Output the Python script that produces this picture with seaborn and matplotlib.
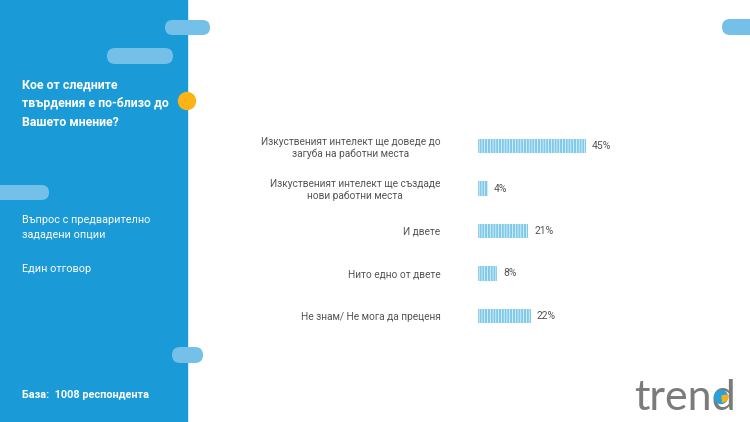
import matplotlib
matplotlib.use("Agg")
import matplotlib.pyplot as plt
from matplotlib.patches import FancyBboxPatch, Circle, Rectangle, Wedge
import seaborn as sns
import pandas as pd

# -------------------------------
# Data
# -------------------------------
answers = [
    "Изкуственият интелект ще доведе до\nзагуба на работни места",
    "Изкуственият интелект ще създаде\nнови работни места",
    "И двете",
    "Нито едно от двете",
    "Не знам/ Не мога да преценя",
]
shares = [45, 4, 21, 8, 22]

title = "Кое от следните\nтвърдения е по-близо до\nВашето мнение?"
note_1 = "Въпрос с предварително\nзададени опции"
note_2 = "Един отговор"
base = "База:  1008 респондента"

df = pd.DataFrame({"answer": answers, "share": shares})

# -------------------------------
# Style
# -------------------------------
sns.set_theme(style="white")
plt.rcParams["font.family"] = ["Roboto", "DejaVu Sans"]
plt.rcParams["hatch.color"] = "white"
plt.rcParams["hatch.linewidth"] = 0.45

PANEL = "#1b9ad8"
PILL = "#74c0e8"
BAR = "#7fcaea"
TEXT = "#555555"

W, H = 750, 422
fig = plt.figure(figsize=(7.5, 4.22), dpi=100)
fig.patch.set_facecolor("white")

# background layer in pixel coords
bg = fig.add_axes([0, 0, 1, 1])
bg.set_xlim(0, W)
bg.set_ylim(H, 0)
bg.axis("off")

bg.add_patch(Rectangle((0, 0), 187, H, color=PANEL, zorder=1))


def pill(x, y, w, h, color=PILL):
    bg.add_patch(FancyBboxPatch((x, y), w, h,
                                boxstyle=f"round,pad=0,rounding_size={h / 2}",
                                color=color, zorder=2, lw=0))


pill(165, 20, 45, 15)
pill(107, 48, 66, 16)
pill(-20, 185, 69, 15)
pill(172, 347, 31, 16)
pill(722, 19, 50, 16)
bg.add_patch(Circle((187, 101), 8.5, color="#fbb316", zorder=3))

bg.text(22, 104, title, color="white", fontsize=8.9, fontweight="bold",
        va="center", ha="left", linespacing=1.6, zorder=4)
bg.text(22, 227, note_1, color="white", fontsize=7.8, va="center", ha="left",
        linespacing=1.6, zorder=4)
bg.text(22, 269, note_2, color="white", fontsize=7.8, va="center", ha="left", zorder=4)
bg.text(22, 395, base, color="white", fontsize=7.8, fontweight="bold",
        va="center", ha="left", zorder=4)

# logo
bg.text(736, 410, "trend", color="#7b7b7b", fontsize=31, va="baseline", ha="right",
        family="Lato", zorder=4)
bg.add_patch(Circle((721, 397), 6.5, color="#2aa0dc", zorder=5))
bg.add_patch(Wedge((722, 396), 6, -10, 85, color="#f5b21a", zorder=6))

# -------------------------------
# Bars
# -------------------------------
ax = fig.add_axes([478 / W, 1 - 337.25 / H, 120 / W, 212.5 / H])
ax.patch.set_alpha(0)
sns.barplot(data=df, y="answer", x="share", orient="h", color=BAR,
            width=0.34, ax=ax, saturation=1)
for p in ax.patches:
    p.set_hatch("||||||")
    p.set_edgecolor("white")
    p.set_linewidth(0)

ax.set_xlim(0, 50)
ax.set_ylim(4.5, -0.5)
ax.set_xlabel("")
ax.set_ylabel("")
ax.set_xticks([])
ax.tick_params(axis="y", length=0, pad=27, labelsize=7.3, labelcolor=TEXT)
for lbl in ax.get_yticklabels():
    lbl.set_multialignment("center")
sns.despine(ax=ax, left=True, bottom=True)

for i, v in enumerate(shares):
    ax.text(v + 2.5, i, f"{v}%", va="center", ha="left", fontsize=7.5, color=TEXT)

fig.savefig("out.png", dpi=100, facecolor="white")
